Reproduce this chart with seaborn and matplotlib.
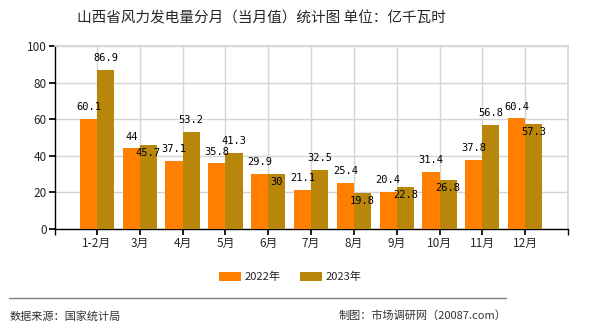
import matplotlib
matplotlib.use("Agg")
import matplotlib.pyplot as plt
import seaborn as sns
import pandas as pd

categories = ["1-2月", "3月", "4月", "5月", "6月", "7月", "8月", "9月", "10月", "11月", "12月"]
values_2022 = [60.1, 44, 37.1, 35.8, 29.9, 21.1, 25.4, 20.4, 31.4, 37.8, 60.4]
values_2023 = [86.9, 45.7, 53.2, 41.3, 30, 32.5, 19.8, 22.8, 26.8, 56.8, 57.3]
series_names = ["2022年", "2023年"]
labels_2022 = ["60.1", "44", "37.1", "35.8", "29.9", "21.1", "25.4", "20.4", "31.4", "37.8", "60.4"]
labels_2023 = ["86.9", "45.7", "53.2", "41.3", "30", "32.5", "19.8", "22.8", "26.8", "56.8", "57.3"]
inside_2023 = [False, True, False, False, True, False, True, True, True, False, True]

title = "山西省风力发电量分月（当月值）统计图 单位：亿千瓦时"
source_text = "数据来源：国家统计局"
credit_text = "制图：市场调研网（20087.com）"

df = pd.DataFrame({
    "月份": categories * 2,
    "值": values_2022 + values_2023,
    "年份": [series_names[0]] * len(categories) + [series_names[1]] * len(categories),
})

sns.set_theme(style="white")
plt.rcParams["font.family"] = ["Noto Sans CJK SC", "DejaVu Sans"]

fig = plt.figure(figsize=(5.9, 3.3), dpi=100)
ax = fig.add_axes([55 / 590, 1 - 229 / 330, (568 - 55) / 590, (229 - 46) / 330])

colors = ["#FF8000", "#B8860B"]
sns.barplot(data=df, x="月份", y="值", hue="年份", palette=colors, ax=ax,
            width=0.8, saturation=1, legend=False, zorder=3,
            edgecolor="none", linewidth=0)

ax.set_xlim(-0.98, 11.0)
ax.set_ylim(0, 100)
ax.set_yticks([0, 20, 40, 60, 80, 100])
ax.set_xlabel("")
ax.set_ylabel("")
ax.grid(True, color="#d4d4d4", linewidth=1, zorder=0)
ax.set_axisbelow(True)
for s in ["top", "right"]:
    ax.spines[s].set_color("#d4d4d4")
for s in ["left", "bottom"]:
    ax.spines[s].set_color("black")
    ax.spines[s].set_linewidth(1)
ax.set_xticks([-0.98, 11.0], minor=True)
ax.tick_params(axis="x", which="both", bottom=True, direction="out", length=4,
               color="black", labelsize=8.5, pad=2)
ax.tick_params(axis="y", left=True, direction="out", length=4, color="black",
               labelsize=8.5, pad=2)

mono = "DejaVu Sans Mono"
c22, c23 = ax.containers[0], ax.containers[1]
for bar, lab in zip(c22, labels_2022):
    x = bar.get_x() + bar.get_width() / 2
    ax.annotate(lab, (x, bar.get_height()), xytext=(0, 5), textcoords="offset points",
                ha="center", va="bottom", fontsize=7.5, family=mono, color="black", zorder=5)
for bar, lab, ins in zip(c23, labels_2023, inside_2023):
    x = bar.get_x() + bar.get_width() / 2
    if ins:
        ax.annotate(lab, (x, bar.get_height()), xytext=(0, -2), textcoords="offset points",
                    ha="center", va="top", fontsize=7.5, family=mono, color="black", zorder=5)
    else:
        ax.annotate(lab, (x, bar.get_height()), xytext=(0, 5), textcoords="offset points",
                    ha="center", va="bottom", fontsize=7.5, family=mono, color="black", zorder=5)

fig.text(261 / 590, 1 - 18 / 330, title, ha="center", va="center", fontsize=10.5)

# legend
from matplotlib.patches import Patch
handles = [Patch(facecolor=c, edgecolor="none") for c in colors]
fig.legend(handles, series_names, loc="center", bbox_to_anchor=(290 / 590, 1 - 277 / 330),
           ncol=2, frameon=False, fontsize=8, handlelength=2.0, handleheight=0.8,
           handletextpad=0.3, columnspacing=1.8)

fig.add_artist(plt.Line2D([9 / 590, 506 / 590], [1 - 298 / 330, 1 - 298 / 330],
                          color="#808080", linewidth=1))
fig.text(10 / 590, 1 - 316 / 330, source_text, ha="left", va="center", fontsize=8, color="#333333")
fig.text(506 / 590, 1 - 316 / 330, credit_text, ha="right", va="center", fontsize=8, color="#333333")

fig.savefig("out.png", dpi=100)
